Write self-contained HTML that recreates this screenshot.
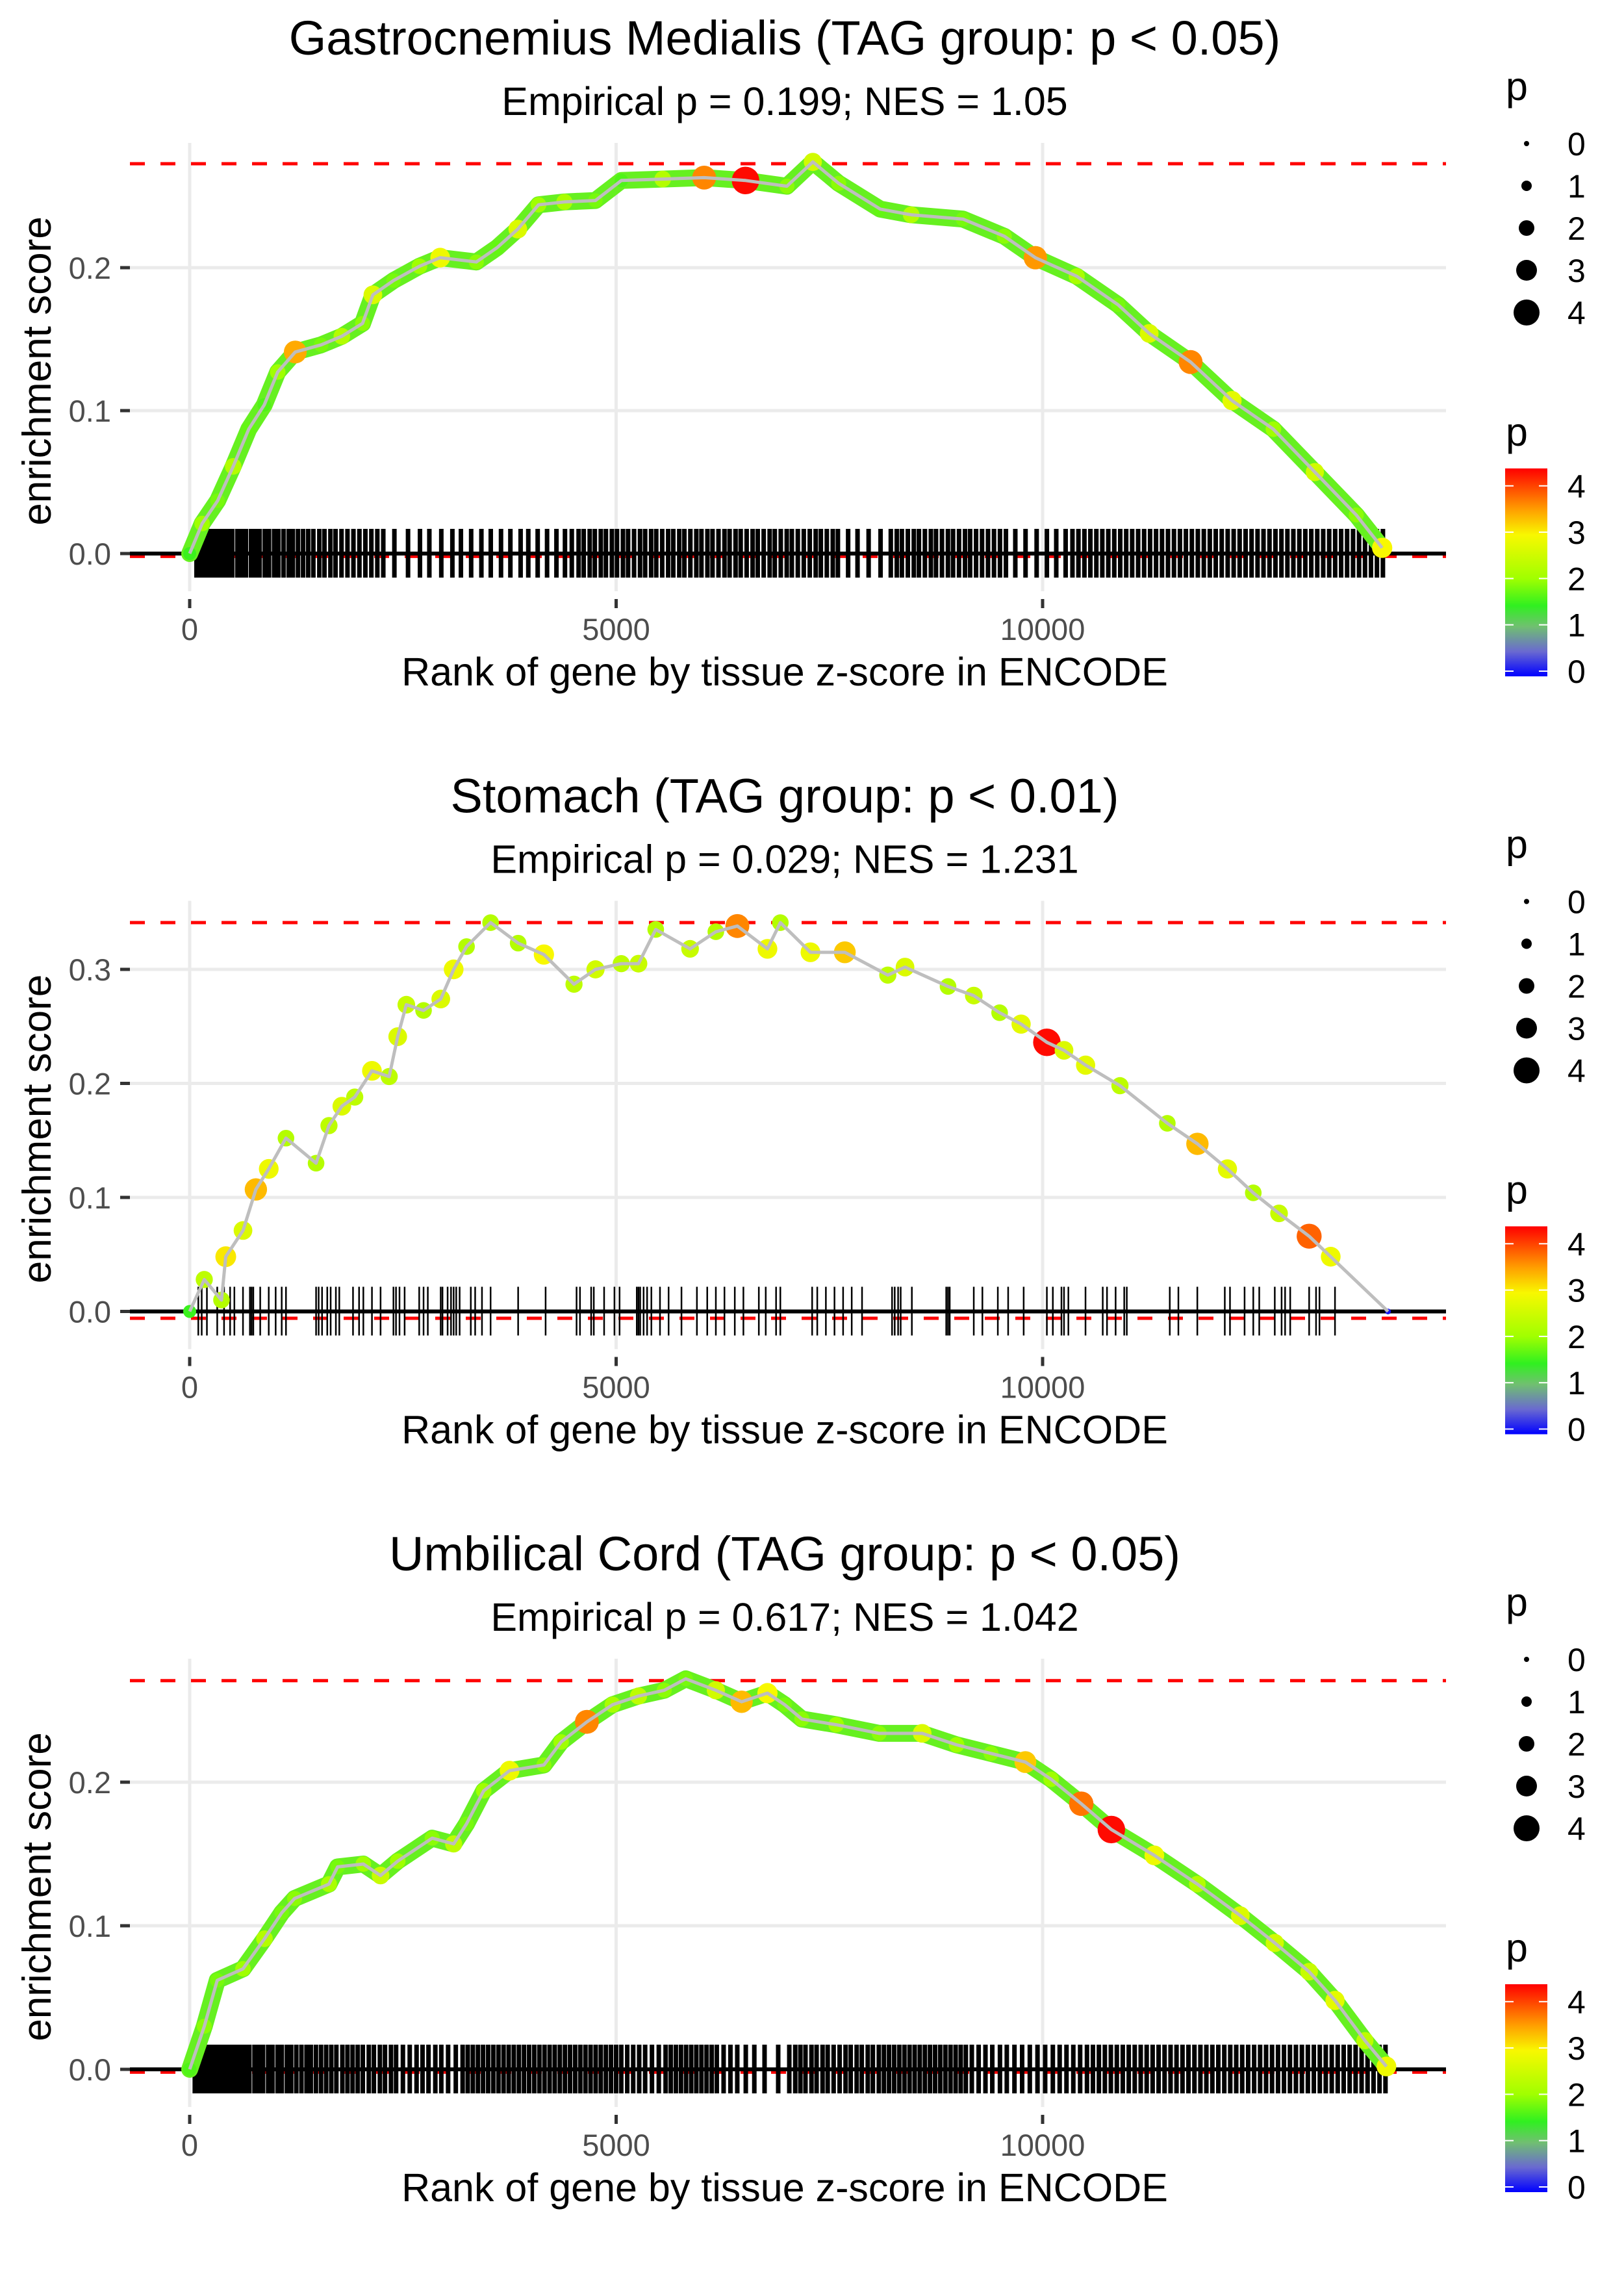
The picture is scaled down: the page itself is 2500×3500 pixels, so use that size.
<!DOCTYPE html>
<html><head><meta charset="utf-8">
<style>
html,body{margin:0;padding:0;background:#fff;}
svg{display:block;font-family:"Liberation Sans",Arial,sans-serif;}
</style></head>
<body>
<svg id="chart" xmlns="http://www.w3.org/2000/svg" width="2500" height="3500" viewBox="0 0 2500 3500">
<defs>
<linearGradient id="pgrad" x1="0" y1="1" x2="0" y2="0">
<stop offset="0" stop-color="#0000ff"/>
<stop offset="0.12" stop-color="#6a6ad0"/>
<stop offset="0.24" stop-color="#70c070"/>
<stop offset="0.34" stop-color="#30f020"/>
<stop offset="0.47" stop-color="#a0ff00"/>
<stop offset="0.68" stop-color="#f8f800"/>
<stop offset="0.8" stop-color="#ffa000"/>
<stop offset="0.9" stop-color="#ff5000"/>
<stop offset="1" stop-color="#ff0000"/>
</linearGradient>
</defs>
</svg>
<script>
// ---------- Data ----------
const titles = ["Gastrocnemius Medialis (TAG group: p < 0.05)", "Stomach (TAG group: p < 0.01)", "Umbilical Cord (TAG group: p < 0.05)"];
const subtitles = ["Empirical p = 0.199; NES = 1.05", "Empirical p = 0.029; NES = 1.231", "Empirical p = 0.617; NES = 1.042"];
const xTicks = [0, 5000, 10000];
const xTickLabels = ["0", "5000", "10000"];
const yTicks1 = [0, 0.1, 0.2];
const yTicks2 = [0, 0.1, 0.2, 0.3];
const yTicks3 = [0, 0.1, 0.2];
const sizeLegendValues = [0, 1, 2, 3, 4];
const colorLegendValues = [0, 1, 2, 3, 4];
const maxES = [0.2727, 0.341, 0.2707];
const minES = [-0.002, -0.006, -0.002];

const p1Rank = [0,146,328,510,692,874,1032,1238,1541,1784,2027,2148,2390,2694,2937,3361,3604,3847,4090,4393,4757,5061,5546,6032,6517,7002,7306,7609,8095,8459,9066,9551,9915,10400,10886,11250,11735,12221,12706,13192,13677,13981];
const p1ES = [0,0.021,0.037,0.061,0.087,0.104,0.127,0.141,0.146,0.152,0.161,0.181,0.191,0.201,0.207,0.204,0.214,0.227,0.244,0.246,0.247,0.261,0.262,0.263,0.261,0.257,0.274,0.259,0.241,0.237,0.234,0.222,0.207,0.194,0.174,0.154,0.134,0.107,0.087,0.057,0.027,0.004];
const p1P = [1.5,2,1.8,2.2,1.7,1.6,2.0,3.4,1.8,2.2,1.9,2.6,1.8,2.0,2.8,1.9,1.7,2.6,2.0,2.1,1.8,1.6,2.2,3.6,4.3,1.9,2.5,1.9,1.7,2.2,1.8,1.9,3.5,2.1,1.8,2.6,3.6,2.7,2.0,2.5,1.9,2.9];
const p1Rug = [80,120,160,210,260,300,350,400,450,500,560,610,660,720,770,820,880,930,990,1040,1100,1160,1210,1270,1330,1390,1450,1520,1580,1650,1710,1780,1850,1920,1990,2060,2130,2200,2270,2400,2560,2700,2810,2950,3080,3180,3300,3420,3530,3650,3760,3880,3970,4080,4190,4300,4400,4480,4560,4620,4690,4750,4820,4880,4950,5010,5080,5140,5210,5280,5340,5410,5470,5540,5610,5670,5740,5800,5870,5940,6000,6070,6130,6200,6270,6330,6400,6460,6530,6600,6660,6730,6800,6860,6930,7000,7060,7130,7200,7270,7340,7400,7470,7540,7600,7720,7830,7960,8100,8220,8290,8350,8420,8490,8550,8620,8690,8750,8820,8890,8950,9020,9090,9150,9220,9290,9360,9430,9500,9570,9680,9800,9930,10050,10160,10270,10350,10420,10490,10560,10630,10700,10770,10840,10910,10980,11050,11120,11190,11260,11330,11400,11470,11540,11610,11680,11750,11820,11890,11960,12030,12100,12170,12240,12310,12380,12450,12520,12590,12660,12730,12800,12870,12940,13010,13080,13150,13220,13290,13360,13430,13500,13570,13640,13710,13780,13850,13920,13990];

const p2Rank = [0,171,373,423,625,776,927,1129,1482,1633,1784,1935,2137,2339,2439,2540,2742,2944,3095,3246,3528,3851,4153,4506,4758,5060,5262,5464,5867,6169,6421,6774,6925,7278,7681,8185,8387,8891,9193,9496,9748,10050,10251,10504,10907,11462,11815,12167,12470,12772,13125,13378,14050];
const p2ES = [0,0.028,0.010,0.048,0.071,0.107,0.125,0.152,0.130,0.163,0.180,0.188,0.211,0.206,0.241,0.269,0.264,0.274,0.300,0.320,0.341,0.323,0.313,0.287,0.300,0.305,0.305,0.335,0.318,0.333,0.338,0.318,0.341,0.315,0.315,0.295,0.302,0.285,0.277,0.262,0.252,0.236,0.229,0.216,0.198,0.165,0.147,0.125,0.104,0.086,0.066,0.048,0.0];
const p2P = [1.5,2.3,2.2,3.0,2.6,3.3,2.8,2.2,2.2,2.3,2.6,2.3,2.8,2.3,2.6,2.4,2.2,2.6,2.8,2.2,2.2,2.2,2.9,2.3,2.5,2.3,2.4,2.2,2.4,2.2,3.6,2.8,2.2,2.8,3.2,2.3,2.6,2.2,2.4,2.2,2.7,4.3,2.6,2.7,2.3,2.2,3.3,2.7,2.2,2.4,3.8,2.8,0.1];
const p2Rug = [101,141,202,323,403,474,524,625,706,726,746,827,927,1008,1079,1129,1482,1512,1552,1613,1653,1714,1754,1915,1986,2036,2137,2238,2389,2419,2460,2520,2691,2742,2792,2943,2964,3024,3064,3095,3125,3165,3296,3347,3427,3528,3851,4173,4536,4576,4707,4738,4859,4980,5040,5242,5262,5282,5322,5363,5413,5514,5615,5766,5947,6068,6169,6270,6391,6492,6673,6754,6875,6925,7298,7358,7459,7560,7661,7762,7883,8235,8266,8306,8336,8467,8870,8891,8911,9193,9294,9475,9596,9778,10050,10120,10221,10251,10302,10503,10705,10755,10856,10957,10987,11491,11592,11814,12136,12197,12368,12470,12540,12722,12802,12843,12903,13125,13206,13246,13428];

const p3Rank = [0,171,323,625,877,1079,1230,1633,1734,2036,2238,2439,2843,3095,3246,3447,3750,4153,4355,4657,4959,5262,5564,5816,6169,6471,6774,6975,7177,7580,8084,8588,8991,9395,9798,10100,10453,10806,11310,11814,12318,12722,13125,13428,13779,14031];
const p3ES = [0,0.030,0.062,0.070,0.091,0.109,0.119,0.129,0.141,0.143,0.135,0.145,0.161,0.157,0.171,0.194,0.208,0.212,0.228,0.242,0.254,0.260,0.264,0.272,0.264,0.256,0.262,0.254,0.244,0.240,0.234,0.234,0.226,0.220,0.214,0.202,0.185,0.167,0.149,0.129,0.107,0.088,0.068,0.048,0.020,0.002];
const p3P = [1.6,1.9,1.8,2.0,2.2,1.8,1.9,2.1,1.8,2.0,2.4,2.0,1.9,2.3,1.8,2.0,2.8,1.9,2.0,3.6,2.1,2.3,1.9,1.8,2.5,3.3,2.9,1.8,1.9,2.0,1.9,2.6,2.0,1.9,3.2,2.0,3.7,4.3,2.8,2.2,2.6,2.5,2.4,2.7,2.3,2.8];
const p3Rug = [60,100,140,180,230,270,310,360,410,450,500,550,600,650,700,760,810,860,920,970,1030,1080,1140,1190,1250,1310,1370,1420,1480,1540,1600,1660,1720,1790,1850,1910,1970,2030,2100,2160,2230,2290,2360,2420,2500,2580,2660,2730,2800,2880,2950,3030,3120,3200,3260,3320,3380,3440,3500,3560,3620,3680,3740,3800,3860,3920,3980,4040,4100,4160,4220,4280,4340,4400,4460,4520,4580,4640,4700,4760,4820,4880,4940,5000,5060,5130,5200,5270,5340,5420,5500,5580,5640,5700,5760,5820,5880,5940,6000,6060,6120,6180,6260,6340,6420,6520,6620,6740,6900,7030,7100,7160,7220,7290,7350,7420,7480,7550,7620,7690,7750,7820,7880,7950,8010,8080,8140,8200,8260,8320,8380,8440,8500,8560,8620,8680,8740,8800,8860,8920,8980,9040,9100,9170,9250,9330,9410,9500,9580,9670,9760,9850,9940,10030,10120,10200,10280,10360,10440,10520,10590,10660,10730,10800,10870,10940,11010,11080,11150,11220,11290,11360,11430,11500,11570,11640,11710,11780,11850,11920,11990,12060,12130,12200,12270,12340,12410,12480,12550,12620,12690,12760,12830,12900,12970,13040,13110,13180,13250,13320,13390,13460,13530,13600,13670,13740,13810,13880,13950,14020];

// ---------- Rendering ----------
const NS = "http://www.w3.org/2000/svg";
const svg = document.getElementById("chart");
const PANEL_DY = 1166.5;
const PLOT_L = 190, PLOT_R = 2226, PLOT_T = 220, PLOT_B = 922, ZERO_Y = 852;
const X0 = 292, XK = 0.1313;
const YK = [2200, 1755, 2210];

function xScale(r) { return X0 + r * XK; }
function mk(tag, attrs, parent) {
  const e = document.createElementNS(NS, tag);
  for (const k in attrs) e.setAttribute(k, attrs[k]);
  (parent || svg).appendChild(e);
  return e;
}
function colorFor(p) {
  const st = [[0,[0,0,255]],[0.55,[96,96,208]],[1.0,[110,192,110]],[1.45,[48,240,32]],[2.0,[160,255,0]],[2.9,[248,248,0]],[3.4,[255,170,0]],[3.9,[255,80,0]],[4.36,[255,0,0]]];
  if (p <= st[0][0]) return "rgb(0,0,255)";
  for (let i = 1; i < st.length; i++) {
    if (p <= st[i][0]) {
      const t = (p - st[i-1][0]) / (st[i][0] - st[i-1][0]);
      const c = st[i-1][1].map((v, j) => Math.round(v + t * (st[i][1][j] - v)));
      return "rgb(" + c.join(",") + ")";
    }
  }
  return "rgb(255,0,0)";
}
function radiusFor(p) { return 4 + 4 * p; }

const panels = [
  {ranks: p1Rank, es: p1ES, ps: p1P, rug: p1Rug, yTicks: yTicks1, band: true, rugW: 7},
  {ranks: p2Rank, es: p2ES, ps: p2P, rug: p2Rug, yTicks: yTicks2, band: false, rugW: 2.5},
  {ranks: p3Rank, es: p3ES, ps: p3P, rug: p3Rug, yTicks: yTicks3, band: true, rugW: 7}
];

panels.forEach((pn, i) => {
  const oy = i * PANEL_DY;
  const yk = YK[i];
  const yScale = v => oy + ZERO_Y - v * yk;
  const g = mk("g", {});
  
  

  const t = mk("text", {x: 1208, y: oy + 84, "text-anchor": "middle", "font-size": 74, fill: "#000"}, g);
  t.textContent = titles[i];
  
  
  const st = mk("text", {x: 1208, y: oy + 177, "text-anchor": "middle", "font-size": 61, fill: "#000"}, g);
  st.textContent = subtitles[i];
  
  

  pn.yTicks.forEach(v => {
    const gl = mk("line", {x1: PLOT_L + 10, x2: PLOT_R, y1: yScale(v), y2: yScale(v), stroke: "#ebebeb", "stroke-width": 5}, g);
    
    
    const tk = mk("line", {x1: 185, x2: 200, y1: yScale(v), y2: yScale(v), stroke: "#333", "stroke-width": 5}, g);
    
    
    const tl = mk("text", {x: 171, y: yScale(v) + 17, "text-anchor": "end", "font-size": 47, fill: "#4d4d4d"}, g);
    tl.textContent = v.toFixed(1);
    
    
  });
  xTicks.forEach((v, k) => {
    const gl = mk("line", {x1: xScale(v), x2: xScale(v), y1: oy + PLOT_T, y2: oy + PLOT_B - 12, stroke: "#ebebeb", "stroke-width": 5}, g);
    
    
    const tk = mk("line", {x1: xScale(v), x2: xScale(v), y1: oy + PLOT_B, y2: oy + PLOT_B + 14, stroke: "#333", "stroke-width": 5}, g);
    
    
    const tl = mk("text", {x: xScale(v), y: oy + 985, "text-anchor": "middle", "font-size": 47, fill: "#4d4d4d"}, g);
    tl.textContent = xTickLabels[k];
    
    
  });

  const dmax = mk("line", {x1: 200, x2: PLOT_R, y1: yScale(maxES[i]), y2: yScale(maxES[i]), stroke: "#ff0000", "stroke-width": 5, "stroke-dasharray": "23 24"}, g);
  
  
  const dmin = mk("line", {x1: 200, x2: PLOT_R, y1: yScale(minES[i]), y2: yScale(minES[i]), stroke: "#ff0000", "stroke-width": 5, "stroke-dasharray": "23 24"}, g);
  
  

  const rg = mk("g", {}, g);
  
  
  pn.rug.forEach(r => {
    const l = mk("line", {x1: xScale(r), x2: xScale(r), y1: oy + ZERO_Y - 38, y2: oy + ZERO_Y + 37, stroke: "#000", "stroke-width": pn.rugW}, rg);
    
    
  });

  const zl = mk("line", {x1: 200, x2: PLOT_R, y1: yScale(0), y2: yScale(0), stroke: "#000", "stroke-width": 6}, g);
  
  

  const pts = pn.ranks.map((r, k) => xScale(r).toFixed(1) + "," + yScale(pn.es[k]).toFixed(1)).join(" ");
  if (pn.band) {
    const b = mk("polyline", {points: pts, fill: "none", stroke: "#66f020", "stroke-width": 26, "stroke-linejoin": "round", "stroke-linecap": "round"}, g);
    
    
  }
  pn.ranks.forEach((r, k) => {
    const c = mk("circle", {cx: xScale(r), cy: yScale(pn.es[k]), r: radiusFor(pn.ps[k]), fill: colorFor(pn.ps[k])}, g);
    
    
  });
  const ln = mk("polyline", {points: pts, fill: "none", stroke: "#bebebe", "stroke-width": 5, "stroke-linejoin": "round"}, g);
  
  

  const xt = mk("text", {x: 1208, y: oy + 1055, "text-anchor": "middle", "font-size": 61, fill: "#000"}, g);
  xt.textContent = "Rank of gene by tissue z-score in ENCODE";
  
  
  const yt = mk("text", {x: 0, y: 0, "text-anchor": "middle", "font-size": 62, fill: "#000", transform: "translate(78," + (oy + 571) + ") rotate(-90)"}, g);
  yt.textContent = "enrichment score";
  
  

  const sl = mk("g", {}, g);
  
  
  const slt = mk("text", {x: 2318, y: oy + 154, "font-size": 61, fill: "#000"}, sl);
  slt.textContent = "p";
  
  
  sizeLegendValues.forEach((v, k) => {
    const cy = oy + 221 + k * 65;
    const c = mk("circle", {cx: 2350, cy: cy, r: radiusFor(v), fill: "#000"}, sl);
    
    
    const lt = mk("text", {x: 2413, y: cy + 18, "font-size": 50, fill: "#000"}, sl);
    lt.textContent = String(v);
    
    
  });

  const cl = mk("g", {}, g);
  
  
  const clt = mk("text", {x: 2318, y: oy + 686, "font-size": 61, fill: "#000"}, cl);
  clt.textContent = "p";
  
  
  const bar = mk("rect", {x: 2317, y: oy + 721, width: 65, height: 320, fill: "url(#pgrad)"}, cl);
  
  
  colorLegendValues.forEach(v => {
    const cy = oy + 1033 - v * 71.3;
    mk("line", {x1: 2317, x2: 2330, y1: cy, y2: cy, stroke: "#fff", "stroke-width": 2}, cl);
    mk("line", {x1: 2369, x2: 2382, y1: cy, y2: cy, stroke: "#fff", "stroke-width": 2}, cl);
    const lt = mk("text", {x: 2413, y: cy + 18, "font-size": 50, fill: "#000"}, cl);
    lt.textContent = String(v);
    
    
  });
});
</script>
</body></html>
